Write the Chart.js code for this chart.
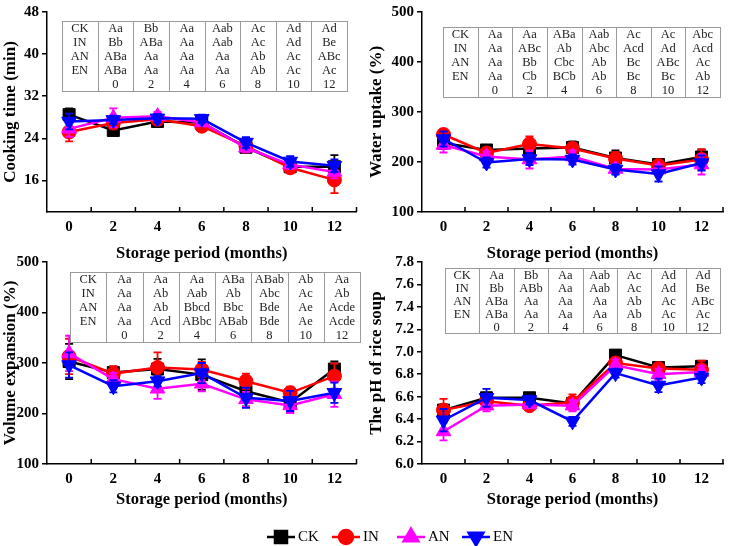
<!DOCTYPE html>
<html lang="en">
<head>
    <meta charset="UTF-8">
    <title>Rice storage quality</title>
    <script src="https://cdn.jsdelivr.net/npm/chart.js"></script>
    <style>
        body {
            margin: 0;
            background: #fff;
            width: 733px;
            height: 546px;
            position: relative;
            overflow: hidden;
        }
        canvas {
            position: absolute;
        }
        #c1 { left: 0; top: 0; }
        #c2 { left: 366px; top: 0; }
        #c3 { left: 0; top: 250px; }
        #c4 { left: 366px; top: 250px; }
        #legend { left: 0; top: 515px; }
    </style>
</head>
<body>
    <canvas id="c1" width="366" height="268"></canvas>
    <canvas id="c2" width="367" height="268"></canvas>
    <canvas id="c3" width="366" height="264"></canvas>
    <canvas id="c4" width="367" height="264"></canvas>
    <canvas id="legend" width="733" height="31"></canvas>

    <script>
        // storage months and treatments
        const months = [0, 2, 4, 6, 8, 10, 12];
        const minorMonths = [1, 3, 5, 7, 9, 11, 13];
        const seriesNames = ['CK', 'IN', 'AN', 'EN'];
        const seriesColors = ['#000000', '#ff0000', '#ff00ff', '#0000ff'];
        const tableHeader = ['', '0', '2', '4', '6', '8', '10', '12'];

        // cooking time (min)
        const cookCK = [28.5, 25.5, 27.2, 27.0, 22.3, 18.6, 18.6];
        const cookIN = [25.2, 26.9, 27.6, 26.3, 22.5, 18.4, 16.1];
        const cookAN = [25.8, 27.9, 28.2, 27.0, 22.2, 19.0, 17.6];
        const cookEN = [27.2, 27.5, 27.8, 27.7, 23.2, 19.6, 18.8];
        const cookErrCK = [1.2, 0.6, 0.8, 0.6, 0.8, 0.8, 2.2];
        const cookErrIN = [1.8, 1.0, 0.8, 0.6, 0.8, 0.8, 2.5];
        const cookErrAN = [1.5, 1.8, 0.8, 0.6, 0.8, 0.8, 1.2];
        const cookErrEN = [1.5, 0.8, 0.8, 0.8, 1.0, 1.0, 1.2];
        const cookTable = [
            ['CK', 'Aa', 'Bb', 'Aa', 'Aab', 'Ac', 'Ad', 'Ad'],
            ['IN', 'Bb', 'ABa', 'Aa', 'Aab', 'Ac', 'Ad', 'Be'],
            ['AN', 'ABa', 'Aa', 'Aa', 'Aa', 'Ab', 'Ac', 'ABc'],
            ['EN', 'ABa', 'Aa', 'Aa', 'Aa', 'Ab', 'Ac', 'Ac']
        ];

        // water uptake (%)
        const waterCK = [238, 224, 227, 229, 208, 195, 210];
        const waterIN = [255, 218, 236, 227, 207, 193, 205];
        const waterAN = [234, 211, 205, 211, 186, 185, 195];
        const waterEN = [246, 199, 206, 205, 185, 176, 198];
        const waterErrCK = [12, 8, 15, 12, 15, 8, 15];
        const waterErrIN = [10, 8, 15, 10, 12, 8, 20];
        const waterErrAN = [15, 10, 18, 12, 10, 10, 20];
        const waterErrEN = [15, 10, 12, 10, 10, 15, 15];
        const waterTable = [
            ['CK', 'Aa', 'Aa', 'ABa', 'Aab', 'Ac', 'Ac', 'Abc'],
            ['IN', 'Aa', 'ABc', 'Ab', 'Abc', 'Acd', 'Ad', 'Acd'],
            ['AN', 'Aa', 'Bb', 'Cbc', 'Ab', 'Bc', 'ABc', 'Ac'],
            ['EN', 'Aa', 'Cb', 'BCb', 'Ab', 'Bc', 'Bc', 'Ab']
        ];

        // volume expansion (%)
        const volCK = [303, 281, 288, 277, 244, 222, 288];
        const volIN = [313, 279, 291, 287, 264, 241, 274];
        const volAN = [319, 268, 249, 259, 228, 216, 238];
        const volEN = [296, 254, 264, 280, 231, 225, 241];
        const volErrCK = [35, 12, 20, 30, 30, 20, 15];
        const volErrIN = [35, 15, 30, 15, 15, 12, 25];
        const volErrAN = [35, 12, 20, 15, 15, 15, 25];
        const volErrEN = [25, 12, 10, 20, 20, 20, 20];
        const volTable = [
            ['CK', 'Aa', 'Aa', 'Aa', 'ABa', 'ABab', 'Ab', 'Aa'],
            ['IN', 'Aa', 'Ab', 'Aab', 'Ab', 'Abc', 'Ac', 'Ab'],
            ['AN', 'Aa', 'Ab', 'Bbcd', 'Bbc', 'Bde', 'Ae', 'Acde'],
            ['EN', 'Aa', 'Acd', 'ABbc', 'ABab', 'Bde', 'Ae', 'Acde']
        ];

        // pH of rice soup
        const phCK = [6.48, 6.59, 6.59, 6.54, 6.97, 6.86, 6.87];
        const phIN = [6.48, 6.56, 6.52, 6.55, 6.90, 6.85, 6.84];
        const phAN = [6.29, 6.52, 6.53, 6.52, 6.88, 6.80, 6.82];
        const phEN = [6.39, 6.59, 6.57, 6.38, 6.81, 6.70, 6.77];
        const phErrCK = [0.05, 0.03, 0.03, 0.03, 0.03, 0.03, 0.03];
        const phErrIN = [0.10, 0.04, 0.04, 0.07, 0.03, 0.03, 0.08];
        const phErrAN = [0.08, 0.05, 0.03, 0.05, 0.05, 0.05, 0.05];
        const phErrEN = [0.10, 0.08, 0.04, 0.04, 0.04, 0.06, 0.05];
        const phTable = [
            ['CK', 'Aa', 'Bb', 'Aa', 'Aab', 'Ac', 'Ad', 'Ad'],
            ['IN', 'Bb', 'ABb', 'Aa', 'Aab', 'Ac', 'Ad', 'Be'],
            ['AN', 'ABa', 'Aa', 'Aa', 'Aa', 'Ab', 'Ac', 'ABc'],
            ['EN', 'ABa', 'Aa', 'Aa', 'Aa', 'Ab', 'Ac', 'Ac']
        ];

        const serif = "'Liberation Serif', 'Times New Roman', serif";
        const pointStyles = ['rect', 'circle', 'triangle', 'triangle'];
        const pointRadius = [8.5, 7, 8.5, 8.5];
        const pointRotation = [0, 0, 0, 180];

        // error bars drawn right after each dataset
        const errorBars = {
            id: 'errorBars',
            afterDatasetDraw(chart, args) {
                const ds = chart.data.datasets[args.index];
                if (!ds.errors) return;
                const ctx = chart.ctx;
                const yScale = chart.scales.y;
                ctx.save();
                ctx.strokeStyle = ds.borderColor;
                ctx.lineWidth = 1.8;
                args.meta.data.forEach((pt, i) => {
                    const v = ds.data[i].y;
                    const e = ds.errors[i];
                    const top = yScale.getPixelForValue(v + e);
                    const bot = yScale.getPixelForValue(v - e);
                    ctx.beginPath();
                    ctx.moveTo(pt.x, top);
                    ctx.lineTo(pt.x, bot);
                    ctx.moveTo(pt.x - 4, top);
                    ctx.lineTo(pt.x + 4, top);
                    ctx.moveTo(pt.x - 4, bot);
                    ctx.lineTo(pt.x + 4, bot);
                    ctx.stroke();
                });
                ctx.restore();
            }
        };

        // inward minor ticks on the month axis (odd months)
        const monthTicks = {
            id: 'monthTicks',
            afterDraw(chart) {
                const ctx = chart.ctx;
                const xs = chart.scales.x;
                const y0 = chart.chartArea.bottom;
                ctx.save();
                ctx.strokeStyle = '#000';
                ctx.lineWidth = 1.5;
                minorMonths.forEach(m => {
                    const x = xs.getPixelForValue(m);
                    ctx.beginPath();
                    ctx.moveTo(x, y0);
                    ctx.lineTo(x, y0 - 5);
                    ctx.stroke();
                });
                ctx.restore();
            }
        };

        // significance letter table inside each panel
        const letterTable = {
            id: 'letterTable',
            afterDraw(chart, args, opts) {
                if (!opts.rows) return;
                const ctx = chart.ctx;
                const rows = opts.rows.concat([tableHeader]);
                const nCols = rows[0].length;
                const cw = opts.w / nCols;
                const rh = opts.h / rows.length;
                ctx.save();
                ctx.fillStyle = '#ffffff';
                ctx.fillRect(opts.x, opts.y, opts.w, opts.h);
                ctx.strokeStyle = '#9a9a9a';
                ctx.lineWidth = 1;
                ctx.strokeRect(opts.x + 0.5, opts.y + 0.5, opts.w, opts.h);
                for (let c = 1; c < nCols; c++) {
                    const x = Math.round(opts.x + c * cw) + 0.5;
                    ctx.beginPath();
                    ctx.moveTo(x, opts.y);
                    ctx.lineTo(x, opts.y + opts.h);
                    ctx.stroke();
                }
                ctx.fillStyle = '#222';
                ctx.font = '12.5px ' + serif;
                ctx.textAlign = 'center';
                ctx.textBaseline = 'middle';
                rows.forEach((row, r) => {
                    row.forEach((txt, c) => {
                        ctx.fillText(txt, opts.x + (c + 0.5) * cw, opts.y + (r + 0.5) * rh + 1);
                    });
                });
                ctx.restore();
            }
        };

        function makePanel(id, series, errors, yCfg, yTitle, layout, table) {
            const datasets = series.map((vals, s) => ({
                label: seriesNames[s],
                data: months.map((m, i) => ({ x: m, y: vals[i] })),
                errors: errors[s],
                borderColor: seriesColors[s],
                backgroundColor: seriesColors[s],
                borderWidth: 2.5,
                pointStyle: pointStyles[s],
                pointRadius: pointRadius[s],
                pointRotation: pointRotation[s],
                pointBorderWidth: 1,
                order: 3 - s
            }));

            return new Chart(document.getElementById(id), {
                type: 'line',
                data: { datasets: datasets },
                options: {
                    responsive: false,
                    animation: false,
                    layout: { padding: { top: layout.top, right: layout.right, left: 0, bottom: 0 } },
                    plugins: {
                        legend: { display: false },
                        tooltip: { enabled: false },
                        letterTable: table
                    },
                    scales: {
                        x: {
                            type: 'linear',
                            min: -1,
                            max: 13,
                            afterBuildTicks: (scale) => {
                                scale.ticks = months.map(v => ({ value: v }));
                            },
                            afterFit: (scale) => { scale.height = layout.xh; },
                            border: { display: true, color: '#000', width: 1.5 },
                            grid: { display: false, drawTicks: false },
                            ticks: {
                                color: '#000',
                                padding: 6,
                                font: { family: serif, size: 15, weight: 'bold' }
                            },
                            title: {
                                display: true,
                                text: 'Storage period (months)',
                                color: '#000',
                                font: { family: serif, size: 16.5, weight: 'bold' }
                            }
                        },
                        y: {
                            min: yCfg.min,
                            max: yCfg.max,
                            afterBuildTicks: (scale) => {
                                scale.ticks = yCfg.ticks.map(v => ({ value: v }));
                            },
                            afterFit: (scale) => { scale.width = layout.yw; },
                            border: { display: true, color: '#000', width: 1.5 },
                            grid: {
                                drawOnChartArea: false,
                                drawTicks: true,
                                tickLength: 5,
                                color: '#000',
                                lineWidth: 1.5
                            },
                            ticks: {
                                color: '#000',
                                padding: 3,
                                font: { family: serif, size: 15, weight: 'bold' },
                                callback: (v) => yCfg.fmt ? v.toFixed(1) : v
                            },
                            title: {
                                display: true,
                                text: yTitle,
                                color: '#000',
                                padding: 0,
                                font: { family: serif, size: 17, weight: 'bold' }
                            }
                        }
                    }
                },
                plugins: [errorBars, monthTicks, letterTable]
            });
        }

        makePanel('c1',
            [cookCK, cookIN, cookAN, cookEN],
            [cookErrCK, cookErrIN, cookErrAN, cookErrEN],
            { min: 10, max: 48, ticks: [16, 24, 32, 40, 48] },
            'Cooking time (min)',
            { top: 7, right: 9, yw: 47, xh: 56 },
            { rows: cookTable, x: 62, y: 21, w: 285, h: 70 });

        makePanel('c2',
            [waterCK, waterIN, waterAN, waterEN],
            [waterErrCK, waterErrIN, waterErrAN, waterErrEN],
            { min: 100, max: 500, ticks: [100, 200, 300, 400, 500] },
            'Water uptake (%)',
            { top: 7, right: 10, yw: 56, xh: 56 },
            { rows: waterTable, x: 77, y: 27, w: 277, h: 70 });

        makePanel('c3',
            [volCK, volIN, volAN, volEN],
            [volErrCK, volErrIN, volErrAN, volErrEN],
            { min: 100, max: 500, ticks: [100, 200, 300, 400, 500] },
            'Volume expansion (%)',
            { top: 9, right: 9, yw: 47, xh: 50 },
            { rows: volTable, x: 70, y: 22, w: 290, h: 70 });

        makePanel('c4',
            [phCK, phIN, phAN, phEN],
            [phErrCK, phErrIN, phErrAN, phErrEN],
            { min: 6.0, max: 7.8, ticks: [6.0, 6.2, 6.4, 6.6, 6.8, 7.0, 7.2, 7.4, 7.6, 7.8], fmt: true },
            'The pH of rice soup',
            { top: 9, right: 10, yw: 56, xh: 50 },
            { rows: phTable, x: 79, y: 18, w: 275, h: 65 });

        // shared legend along the bottom
        function drawLegend() {
            const ctx = document.getElementById('legend').getContext('2d');
            const startX = [267, 332, 397, 462];
            const cy = 22;
            ctx.font = '15px ' + serif;
            ctx.textBaseline = 'middle';
            seriesNames.forEach((name, s) => {
                const x0 = startX[s];
                const mx = x0 + 14;
                ctx.strokeStyle = seriesColors[s];
                ctx.fillStyle = seriesColors[s];
                ctx.lineWidth = 2.5;
                ctx.beginPath();
                ctx.moveTo(x0, cy);
                ctx.lineTo(x0 + 28, cy);
                ctx.stroke();
                Chart.helpers.drawPoint(ctx, {
                    pointStyle: pointStyles[s],
                    radius: pointRadius[s],
                    rotation: pointRotation[s],
                    borderWidth: 1
                }, mx, cy);
                ctx.fill();
                ctx.fillStyle = '#000';
                ctx.fillText(name, x0 + 31, cy);
            });
        }
        drawLegend();
    </script>
</body>
</html>
